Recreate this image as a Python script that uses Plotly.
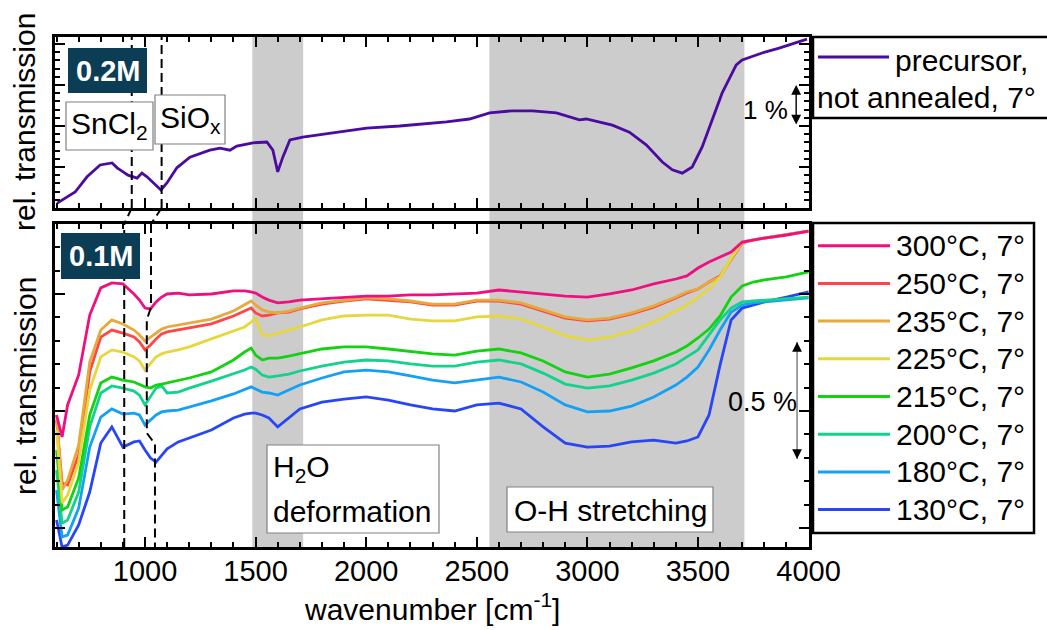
import plotly.graph_objects as go

W, H = 1047, 630
FONT = "Liberation Sans, Arial, Helvetica, sans-serif"

# ---------------- data ----------------
# 0.2 M precursor film, not annealed (relative transmission, %)
precursor_wn = [603, 639, 684, 738, 797, 851, 874, 896, 923, 964, 986, 1009, 1036, 1072,
                1099, 1144, 1203, 1293, 1339, 1384, 1415, 1488, 1551, 1578, 1600, 1623,
                1655, 1713, 1849, 2002, 2151, 2363, 2467, 2558, 2661, 2752, 2860, 2964,
                2995, 3113, 3190, 3266, 3339, 3384, 3429, 3474, 3519, 3564, 3609, 3673,
                3700, 3790, 3867, 3993]
precursor_t = [0.12, 0.24, 0.39, 0.76, 1.05, 1.10, 0.98, 0.90, 0.80, 0.73, 0.85, 0.76, 0.63,
               0.44, 0.61, 0.98, 1.24, 1.41, 1.46, 1.41, 1.51, 1.59, 1.61, 1.41, 0.88, 1.24,
               1.66, 1.73, 1.83, 1.95, 2.00, 2.10, 2.17, 2.32, 2.37, 2.37, 2.32, 2.15, 2.17,
               2.02, 1.85, 1.54, 1.12, 0.93, 0.85, 1.00, 1.49, 2.15, 2.80, 3.49, 3.61, 3.78,
               3.90, 4.12]

# 0.1 M films annealed at different temperatures (relative transmission, %)
wn = [600, 625, 650, 700, 750, 800, 850, 900, 950, 975,
      1000, 1025, 1050, 1075, 1100, 1150, 1200, 1300, 1400, 1450,
      1480, 1500, 1530, 1560, 1600, 1650, 1700, 1800, 1900, 2000,
      2100, 2200, 2300, 2400, 2500, 2600, 2700, 2800, 2900, 3000,
      3100, 3200, 3300, 3400, 3450, 3500, 3550, 3600, 3650, 3700,
      3750, 3800, 3900, 4000]

t_300 = [0.483, 0.389, 0.526, 0.654, 0.910, 1.026, 1.047, 1.043, 1.000, 0.974,
         0.940, 0.936, 0.966, 0.987, 1.000, 1.004, 0.996, 1.000, 1.013, 1.013,
         1.009, 1.004, 0.987, 0.974, 0.962, 0.966, 0.974, 0.979, 0.987, 0.991,
         0.991, 0.996, 0.996, 1.000, 1.004, 1.017, 1.009, 1.000, 0.991, 0.987,
         1.000, 1.017, 1.043, 1.064, 1.077, 1.111, 1.137, 1.158, 1.179, 1.222,
         1.231, 1.239, 1.252, 1.269]
t_250 = [0.462, 0.192, 0.184, 0.312, 0.667, 0.816, 0.846, 0.833, 0.816, 0.795,
         0.761, 0.782, 0.808, 0.829, 0.838, 0.846, 0.855, 0.872, 0.906, 0.927,
         0.940, 0.919, 0.906, 0.910, 0.919, 0.923, 0.936, 0.957, 0.970, 0.979,
         0.974, 0.966, 0.953, 0.953, 0.970, 0.970, 0.957, 0.927, 0.897, 0.885,
         0.893, 0.915, 0.944, 0.983, 1.004, 1.021, 1.051, 1.077, 1.150, 1.218,
         1.231, 1.239, 1.252, 1.269]
t_235 = [0.483, 0.162, 0.205, 0.355, 0.709, 0.846, 0.889, 0.872, 0.846, 0.825,
         0.799, 0.816, 0.833, 0.850, 0.859, 0.868, 0.876, 0.893, 0.927, 0.953,
         0.970, 0.953, 0.932, 0.923, 0.919, 0.927, 0.940, 0.962, 0.974, 0.983,
         0.979, 0.970, 0.957, 0.957, 0.974, 0.974, 0.962, 0.932, 0.902, 0.889,
         0.897, 0.919, 0.949, 0.987, 1.009, 1.021, 1.051, 1.073, 1.145, 1.222,
         1.231, 1.239, 1.252, 1.269]
t_225 = [0.419, 0.107, 0.141, 0.282, 0.590, 0.731, 0.761, 0.752, 0.731, 0.714,
         0.675, 0.701, 0.731, 0.744, 0.752, 0.761, 0.774, 0.808, 0.842, 0.859,
         0.880, 0.897, 0.825, 0.821, 0.833, 0.846, 0.859, 0.889, 0.906, 0.910,
         0.910, 0.893, 0.885, 0.885, 0.902, 0.906, 0.893, 0.859, 0.821, 0.803,
         0.816, 0.842, 0.880, 0.927, 0.953, 0.987, 1.021, 1.073, 1.154, 1.222,
         1.231, 1.239, 1.252, 1.269]
t_215 = [0.333, 0.077, 0.090, 0.214, 0.483, 0.620, 0.645, 0.632, 0.624, 0.615,
         0.603, 0.598, 0.611, 0.615, 0.620, 0.628, 0.641, 0.667, 0.718, 0.752,
         0.769, 0.739, 0.718, 0.726, 0.726, 0.735, 0.744, 0.765, 0.774, 0.774,
         0.765, 0.756, 0.744, 0.739, 0.756, 0.765, 0.748, 0.714, 0.667, 0.645,
         0.658, 0.684, 0.714, 0.752, 0.778, 0.812, 0.850, 0.906, 0.987, 1.034,
         1.051, 1.060, 1.073, 1.094]
t_200 = [0.248, 0.021, 0.034, 0.154, 0.432, 0.577, 0.607, 0.598, 0.585, 0.568,
         0.526, 0.560, 0.598, 0.607, 0.577, 0.581, 0.598, 0.628, 0.658, 0.675,
         0.688, 0.679, 0.654, 0.645, 0.650, 0.658, 0.671, 0.692, 0.709, 0.718,
         0.714, 0.701, 0.692, 0.692, 0.709, 0.718, 0.701, 0.662, 0.615, 0.598,
         0.607, 0.632, 0.662, 0.701, 0.731, 0.761, 0.825, 0.889, 0.940, 0.966,
         0.970, 0.974, 0.979, 0.987]
t_180 = [0.162, -0.038, -0.030, 0.085, 0.346, 0.474, 0.509, 0.487, 0.491, 0.483,
         0.440, 0.462, 0.483, 0.496, 0.500, 0.504, 0.517, 0.543, 0.573, 0.590,
         0.603, 0.594, 0.581, 0.577, 0.568, 0.590, 0.611, 0.641, 0.667, 0.675,
         0.667, 0.650, 0.632, 0.620, 0.632, 0.645, 0.624, 0.581, 0.526, 0.496,
         0.500, 0.521, 0.560, 0.611, 0.645, 0.688, 0.761, 0.846, 0.923, 0.953,
         0.962, 0.966, 0.974, 0.983]
t_130 = [0.034, -0.081, -0.073, 0.013, 0.154, 0.363, 0.432, 0.346, 0.368, 0.372,
         0.333, 0.299, 0.282, 0.308, 0.338, 0.368, 0.385, 0.419, 0.470, 0.487,
         0.491, 0.491, 0.483, 0.470, 0.432, 0.470, 0.509, 0.538, 0.551, 0.560,
         0.547, 0.526, 0.509, 0.500, 0.526, 0.534, 0.509, 0.432, 0.363, 0.346,
         0.350, 0.368, 0.376, 0.363, 0.372, 0.389, 0.483, 0.697, 0.889, 0.940,
         0.953, 0.966, 0.987, 1.009]

series_labels = ["300°C, 7°", "250°C, 7°", "235°C, 7°", "225°C, 7°",
                 "215°C, 7°", "200°C, 7°", "180°C, 7°", "130°C, 7°"]
series_values = [t_300, t_250, t_235, t_225, t_215, t_200, t_180, t_130]
series_colors = ["#ee0f80", "#ff4646", "#e6aa3c", "#e6d83c",
                 "#12d212", "#12d28c", "#14a0f5", "#2846f5"]
precursor_label = ["precursor,", "not annealed, 7°"]
precursor_color = "#4b0aa0"

# band assignments (cm^-1)
h2o_band = [1485, 1715]
oh_band = [2557, 3710]
# peak markers (cm^-1): 0.2 M panel and 0.1 M panel
peaks_02M = [940, 1075]
sncl2_01M = 906
siox_01M_path = [(1027, 1.299), (1027, 0.944), (1008, 0.889), (1008, 0.406),
                 (1045, 0.359), (1045, -0.081)]
# scale bars
scale_top = [2, 3]
scale_bottom = [0.295, 0.795]

X_RANGE = [593, 4002]
Y_TOP_RANGE = [0, 4.17]
Y_BOT_RANGE = [-0.081, 1.299]


def fx(p):
    return p / W


def fy(p):
    return 1 - p / H


X_DOM = [fx(55), fx(809)]
TOP_DOM = [fy(208), fy(37)]
BOT_DOM = [fy(547), fy(224)]

fig = go.Figure()

fig.add_trace(go.Scatter(x=precursor_wn, y=precursor_t, mode="lines",
                         line=dict(color=precursor_color, width=2.8),
                         xaxis="x", yaxis="y", showlegend=False))

draw_order = [7, 6, 5, 4, 1, 2, 3, 0]
for i in draw_order:
    fig.add_trace(go.Scatter(x=wn, y=series_values[i], mode="lines",
                             line=dict(color=series_colors[i], width=2.8),
                             xaxis="x2", yaxis="y2", showlegend=False,
                             name=series_labels[i]))

common = dict(showline=True, linecolor="black", linewidth=2.5, mirror="ticks",
              ticks="inside", tickcolor="black", tickwidth=2, showgrid=False,
              zeroline=False, automargin=False)
tickfont = dict(family=FONT, size=29, color="black")

fig.update_layout(
    width=W, height=H, autosize=False,
    margin=dict(l=0, r=0, t=0, b=0, pad=0, autoexpand=False),
    paper_bgcolor="white", plot_bgcolor="rgba(0,0,0,0)",
    font=dict(family=FONT, size=29, color="black"),
    showlegend=False,
    xaxis=dict(domain=X_DOM, range=X_RANGE, anchor="y", tick0=0, dtick=500,
               ticklen=10, showticklabels=False,
               minor=dict(dtick=100, ticklen=5, ticks="inside",
                          tickcolor="black", tickwidth=1.8), **common),
    yaxis=dict(domain=TOP_DOM, range=Y_TOP_RANGE, anchor="x", tick0=0, dtick=1,
               ticklen=10, showticklabels=False,
               minor=dict(dtick=0.2, ticklen=5, ticks="inside",
                          tickcolor="black", tickwidth=1.8), **common),
    xaxis2=dict(domain=X_DOM, range=X_RANGE, anchor="y2", tick0=0, dtick=500,
                ticklen=10, showticklabels=True, tickfont=tickfont,
                ticklabelstandoff=-4,
                minor=dict(dtick=100, ticklen=5, ticks="inside",
                           tickcolor="black", tickwidth=1.8), **common),
    yaxis2=dict(domain=BOT_DOM, range=Y_BOT_RANGE, anchor="x2", tick0=0, dtick=0.5,
                ticklen=10, showticklabels=False,
                minor=dict(dtick=0.1, ticklen=5, ticks="inside",
                           tickcolor="black", tickwidth=1.8), **common),
)

shapes = []
# spectral bands through both panels
for band in (h2o_band, oh_band):
    shapes.append(dict(type="rect", xref="x", yref="paper", x0=band[0], x1=band[1],
                       y0=BOT_DOM[0], y1=TOP_DOM[1], fillcolor="#cccccc",
                       line=dict(width=0), layer="below"))

dash = dict(color="black", width=2, dash="9px,5px")
# peak lines in 0.2 M panel
for p in peaks_02M:
    shapes.append(dict(type="line", xref="x", yref="y", x0=p, x1=p,
                       y0=Y_TOP_RANGE[0], y1=Y_TOP_RANGE[1], line=dash, layer="above"))
# connectors between panels
for p_top, p_bot in zip(peaks_02M, [sncl2_01M, siox_01M_path[0][0]]):
    shapes.append(dict(type="line", xref="x", yref="paper", x0=p_top, x1=p_bot,
                       y0=TOP_DOM[0], y1=BOT_DOM[1], line=dash, layer="above"))
# peak lines in 0.1 M panel
shapes.append(dict(type="line", xref="x2", yref="y2", x0=sncl2_01M, x1=sncl2_01M,
                   y0=Y_BOT_RANGE[0], y1=Y_BOT_RANGE[1], line=dash, layer="above"))
path = "M " + " L ".join(f"{a},{b}" for a, b in siox_01M_path)
shapes.append(dict(type="path", xref="x2", yref="y2", path=path, line=dash, layer="above"))

# 0.5 % scale bar shaft
shapes.append(dict(type="line", xref="x2", yref="y2", x0=3948, x1=3948,
                   y0=scale_bottom[0], y1=scale_bottom[1],
                   line=dict(color="#808080", width=1.5), layer="above"))


def box(x0, y0, x1, y1, fill, line_color=None, lw=0):
    shapes.append(dict(type="rect", xref="paper", yref="paper",
                       x0=fx(x0), x1=fx(x1), y0=fy(y1), y1=fy(y0),
                       fillcolor=fill,
                       line=dict(color=line_color or fill, width=lw),
                       layer="above"))


TEAL = "#0b3e55"
box(68, 48, 147, 93, TEAL)
box(61, 233, 140, 279, TEAL)
box(66, 102, 153, 150, "white", "#808080", 1.2)
box(155, 95, 225, 144, "white", "#808080", 1.2)
box(267, 445, 439, 533, "white", "#808080", 1.2)
box(507, 487, 713, 532, "white", "#808080", 1.2)
# legend frames
box(813, 37, 1052, 118, "white", "black", 2.5)
box(813, 223, 1034, 533, "white", "black", 2.5)

# legend line samples
shapes.append(dict(type="line", xref="paper", yref="paper", x0=fx(818), x1=fx(889),
                   y0=fy(57), y1=fy(57), line=dict(color=precursor_color, width=3)))
row_y = [245.7 + 37.7 * k for k in range(len(series_labels))]
for k, col in enumerate(series_colors):
    shapes.append(dict(type="line", xref="paper", yref="paper", x0=fx(818), x1=fx(890),
                       y0=fy(row_y[k]), y1=fy(row_y[k]), line=dict(color=col, width=3)))

ann = []


def text(s, x, y, size=30, xanchor="left", color="black", bold=False, angle=0):
    if bold:
        s = f"<b>{s}</b>"
    ann.append(dict(text=s, x=fx(x), y=fy(y), xref="paper", yref="paper",
                    xanchor=xanchor, yanchor="middle", showarrow=False,
                    textangle=angle,
                    font=dict(family=FONT, size=size, color=color)))


text("0.2M", 107.5, 71, size=29, xanchor="center", color="white", bold=True)
text("0.1M", 100.5, 256, size=29, xanchor="center", color="white", bold=True)
text("SnCl<sub>2</sub>", 109.5, 126, xanchor="center")
text("SiO<sub>x</sub>", 190, 119, xanchor="center")
text("H<sub>2</sub>O", 271, 468)
text("deformation", 271, 511)
text("O-H stretching", 610, 510, xanchor="center")
text("1 %", 765, 110, size=26, xanchor="center")
text("0.5 %", 762, 402, size=27, xanchor="center")
text(precursor_label[0], 1030, 60, xanchor="right")
text(precursor_label[1], 1038, 97, xanchor="right")
for k, lab in enumerate(series_labels):
    text(lab, 1027, row_y[k], xanchor="right")
text("rel. transmission", 25, 122, angle=-90, xanchor="center")
text("rel. transmission", 25, 386, angle=-90, xanchor="center")
text("wavenumber [cm<sup>-1</sup>]", 432, 607, xanchor="center")

# scale bar arrows
ann.append(dict(x=3944, y=scale_top[1], ax=3944, ay=scale_top[0], xref="x", yref="y",
                axref="x", ayref="y", text="", showarrow=True, arrowhead=2,
                startarrowhead=2, arrowside="end+start", arrowsize=1.4,
                arrowwidth=1.4, arrowcolor="black"))
for end, start in ((scale_bottom[1], scale_bottom[1] - 0.04),
                   (scale_bottom[0], scale_bottom[0] + 0.04)):
    ann.append(dict(x=3948, y=end, ax=3948, ay=start, xref="x2", yref="y2",
                    axref="x2", ayref="y2", text="", showarrow=True, arrowhead=2,
                    arrowsize=1.4, arrowwidth=1.4, arrowcolor="black"))

fig.update_layout(shapes=shapes, annotations=ann)
fig.write_html("out.html")
